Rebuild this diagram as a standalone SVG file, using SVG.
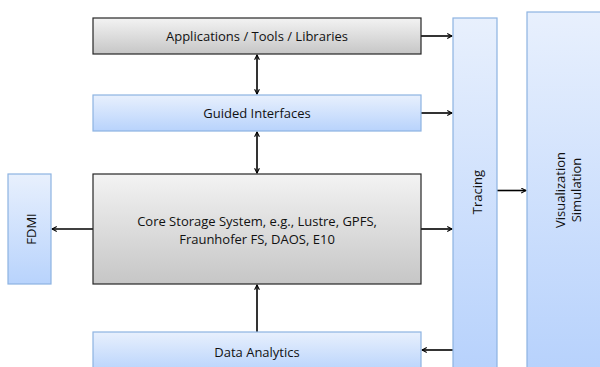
<svg xmlns="http://www.w3.org/2000/svg" width="600" height="367" viewBox="0 0 600 367">
<style>
.gray{fill:url(#gGray);stroke:#262626;stroke-width:1.2}
.blue{fill:url(#gBlue);stroke:#8db3e2;stroke-width:1.2}
.t{font-family:"Open Sans","Liberation Sans",sans-serif;font-size:13px;fill:#111;text-anchor:middle;dominant-baseline:central}
.c{stroke:#000;stroke-width:1.6;fill:none;marker-end:url(#ah)}
.c2{stroke:#000;stroke-width:1.6;fill:none;marker-end:url(#ah);marker-start:url(#ahs)}
</style>
<defs>
<linearGradient id="gGray" x1="0" y1="0" x2="0" y2="1"><stop offset="0" stop-color="#f3f3f3"/><stop offset="1" stop-color="#c6c6c6"/></linearGradient>
<linearGradient id="gBlue" x1="0" y1="0" x2="0" y2="1"><stop offset="0" stop-color="#e8f0fd"/><stop offset="1" stop-color="#b8d3fc"/></linearGradient>
<linearGradient id="gBlueTall" x1="0" y1="0" x2="0" y2="1"><stop offset="0" stop-color="#e8f0fd"/><stop offset="1" stop-color="#b6d1fc"/></linearGradient>
<marker id="ah" viewBox="0 0 10 10" refX="9" refY="5" markerWidth="6" markerHeight="6" markerUnits="userSpaceOnUse" orient="auto"><path d="M1,1 L9,5 L1,9" fill="none" stroke="#000" stroke-width="1.8"/></marker>
<marker id="ahs" viewBox="0 0 10 10" refX="1" refY="5" markerWidth="6" markerHeight="6" markerUnits="userSpaceOnUse" orient="auto"><path d="M9,1 L1,5 L9,9" fill="none" stroke="#000" stroke-width="1.8"/></marker>
</defs>
<g id="connectors">
<path class="c" d="M421,36 H452"/>
<path class="c" d="M421,113 H452"/>
<path class="c" d="M421,229 H452"/>
<path class="c" d="M453,350 H422"/>
<path class="c" d="M497,190.5 H526"/>
<path class="c" d="M93,229 H52"/>
<path class="c2" d="M257,55 V94"/>
<path class="c2" d="M257,132 V173"/>
<path class="c" d="M257,332 V285"/>
</g>
<g id="apps"><rect class="gray" x="93" y="18" width="328" height="36"/><text class="t" x="257" y="36">Applications / Tools / Libraries</text></g>
<g id="guided"><rect class="blue" x="93" y="95" width="328" height="36"/><text class="t" x="257" y="113">Guided Interfaces</text></g>
<g id="core"><rect class="gray" x="93" y="174" width="328" height="110"/><text class="t" x="257" y="221">Core Storage System, e.g., Lustre, GPFS,</text><text class="t" x="257" y="239">Fraunhofer FS, DAOS, E10</text></g>
<g id="analytics"><rect class="blue" x="93" y="332" width="328" height="40"/><text class="t" x="257" y="352">Data Analytics</text></g>
<g id="fdmi"><rect class="blue" x="8" y="174" width="43" height="110"/><text class="t" transform="translate(31,229) rotate(-90)">FDMI</text></g>
<g id="tracing"><rect class="blue" style="fill:url(#gBlueTall)" x="453" y="18" width="44" height="360"/><text class="t" transform="translate(476.5,192) rotate(-90)">Tracing</text></g>
<g id="vis"><rect class="blue" style="fill:url(#gBlueTall)" x="527" y="12" width="90" height="366"/><text class="t" transform="translate(560,190) rotate(-90)">Visualization</text><text class="t" transform="translate(576,190) rotate(-90)">Simulation</text></g>
</svg>
